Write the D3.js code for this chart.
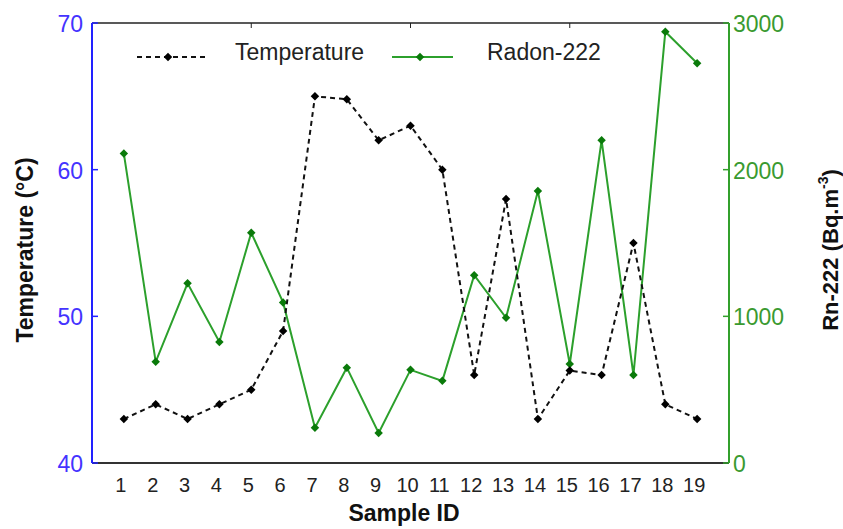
<!DOCTYPE html>
<meta charset="utf-8">
<style>
body { margin: 0; background: #fff; }
svg text { font-family: "Liberation Sans", Arial, sans-serif; }
</style>
<svg width="843" height="529"></svg>
<script src="https://d3js.org/d3.v7.min.js"></script>
<script>
// sample ids and readings
var samples = [1,2,3,4,5,6,7,8,9,10,11,12,13,14,15,16,17,18,19];
var temperature = [43,44,43,44,45,49,65,64.8,62,63,60,46,58,43,46.3,46,55,44,43];
var radon = [2110,690,1225,825,1570,1095,240,650,205,635,560,1280,990,1855,675,2200,600,2940,2725];
var tempTicks = [40,50,60,70];
var radonTicks = [0,1000,2000,3000];

var svg = d3.select("svg"),
 pLeft = 92, pRight = 729, pTop = 23, pBottom = 463;

var x = d3.scaleLinear().domain([0,20]).range([pLeft,pRight]);
var yT = d3.scaleLinear().domain([40,70]).range([pBottom,pTop]);
var yR = d3.scaleLinear().domain([0,3000]).range([pBottom,pTop]);

// frame: top and bottom
svg.append("line").attr("x1",pLeft).attr("x2",pRight).attr("y1",pTop).attr("y2",pTop)
  .attr("stroke","#222").attr("stroke-width",1.5);
svg.append("line").attr("x1",pLeft).attr("x2",pRight).attr("y1",pBottom).attr("y2",pBottom)
  .attr("stroke","#333").attr("stroke-width",2);

// top ticks
svg.append("g").selectAll("line").data([5,10,15]).enter().append("line")
  .attr("x1",function(d){return x(d);}).attr("x2",function(d){return x(d);})
  .attr("y1",pTop).attr("y2",pTop+5).attr("stroke","#222");

// bottom tick labels
svg.append("g").selectAll("text").data(samples).enter().append("text")
  .attr("x",function(d){return x(d) - 3;}).attr("y",pBottom+29)
  .attr("text-anchor","middle").attr("font-size",20).attr("fill","#222")
  .text(function(d){return d;});

// left axis
svg.append("line").attr("x1",pLeft).attr("x2",pLeft).attr("y1",pTop).attr("y2",pBottom)
  .attr("stroke","#2222ff").attr("stroke-width",2);
var lt = svg.append("g").selectAll("g").data(tempTicks).enter().append("g");
lt.append("line").attr("x1",pLeft).attr("x2",pLeft+6)
  .attr("y1",function(d){return yT(d);}).attr("y2",function(d){return yT(d);})
  .attr("stroke","#2222ff").attr("stroke-width",1.5);
lt.append("text").attr("x",pLeft-9).attr("y",function(d){return yT(d)+9;})
  .attr("text-anchor","end").attr("font-size",23).attr("fill","#4433ff")
  .text(function(d){return d;});

// right axis
svg.append("line").attr("x1",pRight).attr("x2",pRight).attr("y1",pTop).attr("y2",pBottom)
  .attr("stroke","#33a02c").attr("stroke-width",2);
var rt = svg.append("g").selectAll("g").data(radonTicks).enter().append("g");
rt.append("line").attr("x1",pRight-6).attr("x2",pRight)
  .attr("y1",function(d){return yR(d);}).attr("y2",function(d){return yR(d);})
  .attr("stroke","#33a02c").attr("stroke-width",1.5);
rt.append("text").attr("x",pRight+4).attr("y",function(d){return yR(d)+9;})
  .attr("font-size",23).attr("fill","#3a9a30")
  .text(function(d){return d;});

// axis titles
svg.append("text").attr("transform","translate(33,250) rotate(-90)")
  .attr("text-anchor","middle").attr("font-size",23).attr("font-weight","bold")
  .attr("fill","#111").text("Temperature (°C)");
var rl = svg.append("text").attr("transform","translate(838,250) rotate(-90)")
  .attr("text-anchor","middle").attr("font-size",22).attr("font-weight","bold")
  .attr("fill","#111");
rl.append("tspan").text("Rn-222 (Bq.m");
rl.append("tspan").attr("font-size",14).attr("dy",-10).text("-3");
rl.append("tspan").attr("dy",10).text(")");
svg.append("text").attr("x",404).attr("y",521).attr("text-anchor","middle")
  .attr("font-family","DejaVu Sans").attr("font-size",23).attr("font-weight","bold")
  .attr("fill","#111").text("Sample ID");

var diamond = d3.symbol().type(d3.symbolSquare).size(36);
function place(px, py) { return "translate(" + px + "," + py + ") rotate(45)"; }

// radon series
var lineR = d3.line().x(function(d,i){return x(samples[i]);}).y(function(d){return yR(d);});
svg.append("path").datum(radon).attr("d",lineR)
  .attr("fill","none").attr("stroke","#2ca02c").attr("stroke-width",2);
svg.append("g").selectAll("path").data(radon).enter().append("path")
  .attr("d",diamond).attr("fill","#0a7a0a")
  .attr("transform",function(d,i){return place(x(samples[i]), yR(d));});

// temperature series
var lineT = d3.line().x(function(d,i){return x(samples[i]);}).y(function(d){return yT(d);});
svg.append("path").datum(temperature).attr("d",lineT)
  .attr("fill","none").attr("stroke","#111").attr("stroke-width",2)
  .attr("stroke-dasharray","5,4");
svg.append("g").selectAll("path").data(temperature).enter().append("path")
  .attr("d",diamond).attr("fill","#000")
  .attr("transform",function(d,i){return place(x(samples[i]), yT(d));});

// legend
var lg = svg.append("g");
lg.append("line").attr("x1",137).attr("x2",208).attr("y1",57).attr("y2",57)
  .attr("stroke","#111").attr("stroke-width",2).attr("stroke-dasharray","5,4");
lg.append("path").attr("d",diamond).attr("transform",place(168,57)).attr("fill","#000");
lg.append("text").attr("x",235).attr("y",60).attr("font-size",23).attr("fill","#222").text("Temperature");
lg.append("line").attr("x1",392).attr("x2",453).attr("y1",57).attr("y2",57)
  .attr("stroke","#2ca02c").attr("stroke-width",2);
lg.append("path").attr("d",diamond).attr("transform",place(420,57)).attr("fill","#0a7a0a");
lg.append("text").attr("x",487).attr("y",60).attr("font-size",23).attr("fill","#222").text("Radon-222");
</script>
